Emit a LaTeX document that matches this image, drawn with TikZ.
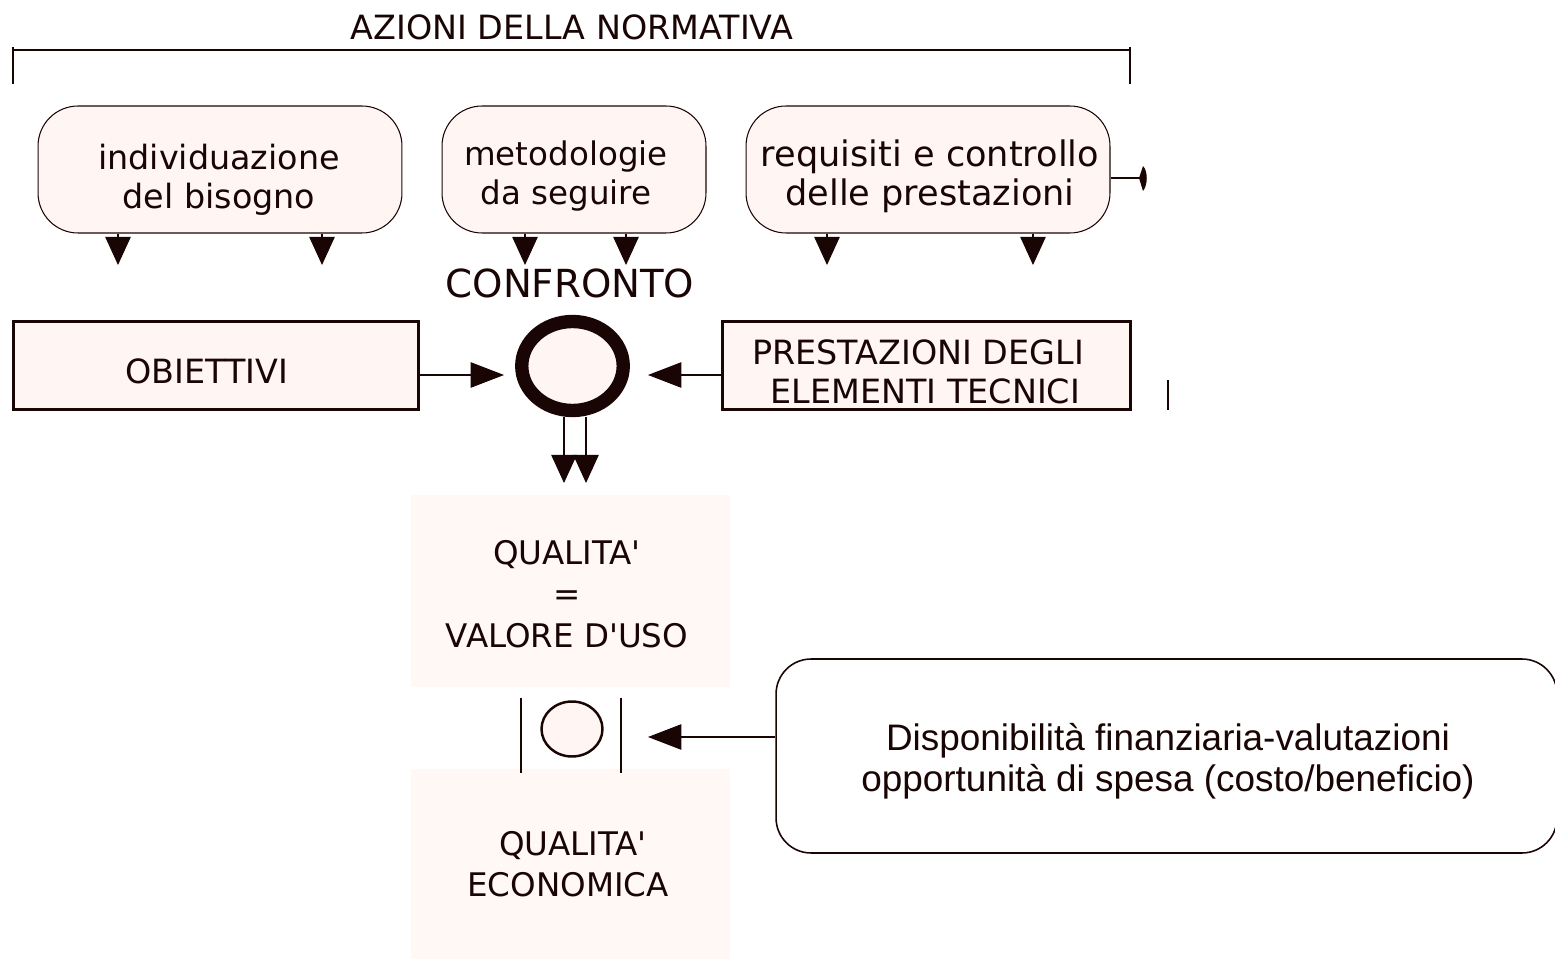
\documentclass[tikz,border=0pt]{standalone}
\usepackage{fontspec}
\setmainfont{DejaVu Sans}
\newfontfamily\arialf{Liberation Sans}
\usetikzlibrary{arrows.meta,shapes.geometric}
\definecolor{ink}{HTML}{1A0505}
\definecolor{pinkfill}{HTML}{FFF6F3}
\definecolor{faint}{HTML}{FFF8F5}
\newcommand{\apo}{\textquotesingle}
\begin{document}
\begin{tikzpicture}[x=0.02cm,y=-0.02cm,
  every node/.style={text=ink},
  rbox/.style={draw=ink,line width=0.6pt,fill=pinkfill,rounded corners=0.8cm,minimum height=2.54cm,inner sep=0pt},
  sqbox/.style={draw=ink,line width=1.7pt,fill=pinkfill,minimum height=1.78cm,inner sep=0pt},
  softbox/.style={fill=faint,minimum width=6.38cm,inner sep=0pt},
  lbl/.style={align=center,inner sep=0pt,font=\fontsize{19}{22.5}\selectfont},
  qlbl/.style={align=center,inner sep=0pt,font=\fontsize{18.5}{23.5}\selectfont},
  arr/.style={draw=ink,line width=0.6pt,-{Triangle[length=16pt,width=14.5pt]}},
  harr/.style={draw=ink,line width=0.6pt,-{Triangle[length=19pt,width=14.5pt]}},
  tick/.style={draw=ink,line width=1.3pt},
]
\clip (0,0) rectangle (1555,959);
\useasboundingbox (0,0) rectangle (1555,959);

% title and bracket
\node[font=\fontsize{19}{22}\selectfont] (title) at (572,27) {AZIONI DELLA NORMATIVA};
\coordinate (brl) at (13,50);
\coordinate (brr) at (1130,50);
\draw[ink,line width=0.6pt] (brl) -- (brr);
\draw[tick] (13,47) -- (13,84);
\draw[tick] (1130,47) -- (1130,84);

% top rounded boxes
\node[rbox,minimum width=7.28cm] (b1) at (220,169.5) {};
\node[rbox,minimum width=5.28cm] (b2) at (574,169.5) {};
\node[rbox,minimum width=7.28cm] (b3) at (928,169.5) {};
\node[lbl,font=\fontsize{19}{22.5}\selectfont] (b1t) at (219,180) {individuazione\\del bisogno};
\node[lbl,font=\fontsize{18.5}{22}\selectfont] (b2t) at (566,176) {metodologie\\da seguire};
\node[lbl,font=\fontsize{20}{22}\selectfont] (b3t) at (930,176) {requisiti e controllo\\delle prestazioni};

% down arrows
\coordinate (d1) at (118,265);
\coordinate (d2) at (322,265);
\coordinate (d3) at (525,265);
\coordinate (d4) at (626,265);
\coordinate (d5) at (827,265);
\coordinate (d6) at (1033,265);
\foreach \b/\d in {b1/d1,b1/d2,b2/d3,b2/d4,b3/d5,b3/d6}
  \draw[arr] (\b.south -| \d) -- (\d);

% small side mark of box 3
\coordinate (sm) at (1140,178);
\draw[ink,line width=0.6pt] (b3.east |- sm) -- (sm);
\fill[ink] (1139,178) -- (1143,166) .. controls (1148,171) and (1148,185) .. (1143,191) -- cycle;

% confronto
\node[font=\fontsize{22}{26}\selectfont] (conf) at (570,283) {CONFRONTO};
\node[ellipse,draw=ink,line width=7.6pt,fill=pinkfill,minimum width=2.03cm,minimum height=1.78cm,inner sep=0pt] (circ) at (572.5,366) {};

% side boxes
\node[sqbox,minimum width=8.12cm] (obj) at (216,365.5) {};
\node[sqbox,minimum width=8.18cm] (pre) at (926.5,365.5) {};
\node[lbl] (objt) at (207,371) {OBIETTIVI};
\node[lbl] (pret) at (918,372) {PRESTAZIONI DEGLI\\\hspace*{0.3cm}ELEMENTI TECNICI};
\draw[tick] (1168,380) -- (1168,410);

\coordinate (t1) at (504,375);
\coordinate (t2) at (648,375);
\draw[harr] (obj.east |- t1) -- (t1);
\draw[harr] (pre.west |- t2) -- (t2);

% double down arrow
\coordinate (q1) at (564,483);
\coordinate (q2) at (586,483);
\draw[arr] (circ.south -| q1) -- (q1);
\draw[arr] (circ.south -| q2) -- (q2);

% quality boxes
\node[softbox,minimum height=3.86cm] (qv) at (570.5,591) {};
\node[softbox,minimum height=3.82cm] (qe) at (570.5,864.5) {};
\node[qlbl] (qvt) at (567,594) {QUALITA\apo\\=\\VALORE D\apo USO};
\node[qlbl] (qet) at (568,864) {\hspace*{0.2cm}QUALITA\apo\\ECONOMICA};

% small comparison symbol
\node[ellipse,draw=ink,line width=1.4pt,fill=pinkfill,minimum width=1.22cm,minimum height=1.1cm,inner sep=0pt] (sc) at (572,729) {};
\draw[tick] (521,698) -- (521,773);
\draw[tick] (621,698) -- (621,773);

% financial box
\node[draw=ink,line width=0.9pt,fill=white,rounded corners=0.7cm,minimum width=15.62cm,minimum height=3.88cm,inner sep=0pt] (fin) at (1166.5,756) {};
\node[align=center,inner sep=0pt,font=\arialf\fontsize{21}{23.5}\selectfont] (fint) at (1168,761) {Disponibilità finanziaria-valutazioni\\opportunità di spesa (costo/beneficio)};
\coordinate (t3) at (648,737);
\draw[harr] (fin.west |- t3) -- (t3);
\end{tikzpicture}
\end{document}
